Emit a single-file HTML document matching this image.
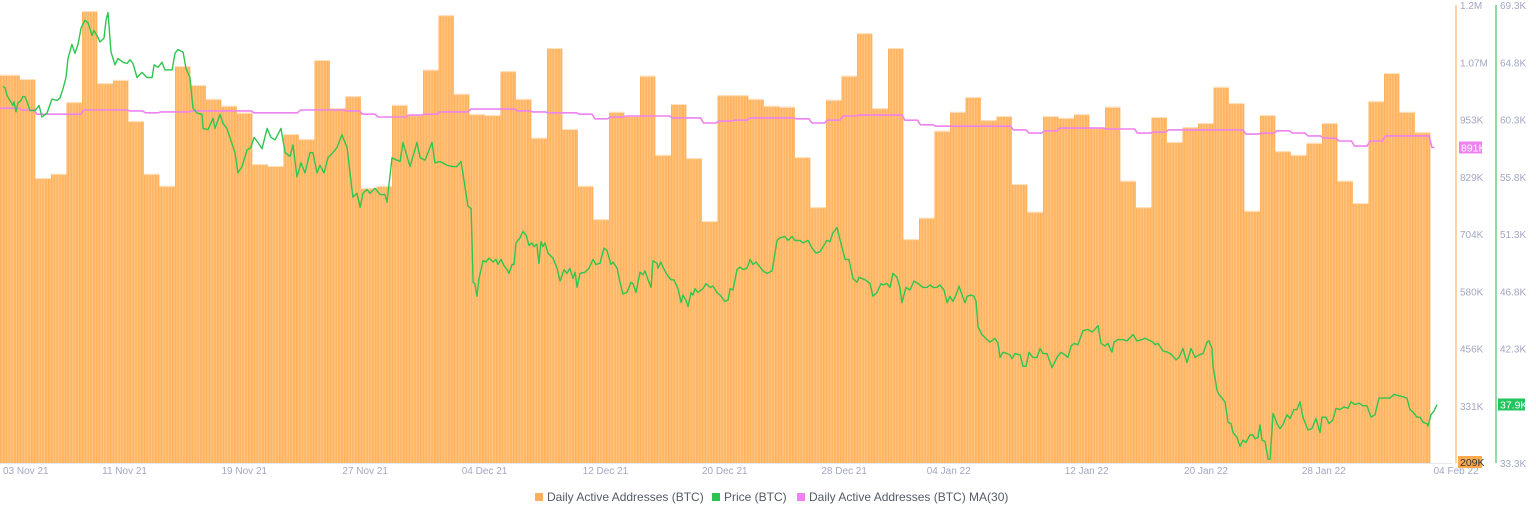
<!DOCTYPE html>
<html><head><meta charset="utf-8"><style>
html,body{margin:0;padding:0;background:#fff;}
body{width:1536px;height:520px;overflow:hidden;font-family:"Liberation Sans",Arial,sans-serif;}
svg text{font-family:"Liberation Sans",Arial,sans-serif;}
</style></head><body>
<svg id="chart" width="1536" height="520" viewBox="0 0 1536 520" xmlns="http://www.w3.org/2000/svg">
<defs>
<pattern id="stripes" patternUnits="userSpaceOnUse" width="1.55" height="10">
<rect x="0" y="0" width="1.55" height="10" fill="#FFC787"/>
<rect x="0" y="0" width="0.65" height="10" fill="#FFA94A"/>
</pattern>
<clipPath id="plotClip"><rect x="0" y="0" width="1452" height="464"/></clipPath>
</defs>
<g id="bars" clip-path="url(#plotClip)"></g>
<line x1="0" y1="463.5" x2="1452" y2="463.5" stroke="#E6E8EE" stroke-width="1"/>
<g id="lines" clip-path="url(#plotClip)"></g>
<line x1="1456" y1="5" x2="1456" y2="463" stroke="#FFD3A3" stroke-width="2"/>
<line x1="1496" y1="5" x2="1496" y2="463" stroke="#8FDCA2" stroke-width="2"/>
<g id="axes"></g>
<g font-size="12" fill="#555a66">
<g><rect x="535" y="493" width="8" height="8" fill="#FFAE5A"/><text x="547" y="501" fill="#555a66">Daily Active Addresses (BTC)</text></g>
<g><rect x="712" y="493" width="8" height="8" fill="#2CC450"/><text x="724" y="501" fill="#555a66">Price (BTC)</text></g>
<g><rect x="797" y="493" width="8" height="8" fill="#EE82EE"/><text x="809" y="501" fill="#555a66">Daily Active Addresses (BTC) MA(30)</text></g>
</g>
</svg>
<script>
const barValues = [1048,1048,1039,825,834,989,1186,1030,1037,948,834,808,1067,1026,996,981,966,855,851,920,909,1080,976,1002,803,808,983,961,1059,1177,1007,963,961,1056,996,912,1106,931,808,736,968,959,1046,875,985,868,732,1004,1004,996,981,979,870,762,994,1046,1138,976,1106,693,739,927,968,1000,950,959,812,752,959,955,963,933,979,819,762,957,903,935,944,1022,987,754,961,883,875,901,944,819,771,991,1052,968,924];
const maValues = [976,976,972,963,963,963,972,972,972,970,966,968,968,970,970,970,970,966,966,966,972,972,972,970,963,957,957,961,963,968,968,974,974,974,970,968,966,966,963,953,957,959,959,959,955,955,944,948,950,955,955,955,953,944,950,959,961,961,961,950,940,937,937,937,937,937,929,922,927,933,933,933,931,931,922,924,929,929,929,929,929,920,922,927,922,916,911,905,894,905,916,916,916];
const maLast = 891;
const priceT = [0.90,1.03,1.16,1.35,1.55,1.61,1.74,1.87,2.06,2.19,2.32,2.45,2.65,2.97,3.23,3.42,3.74,4.06,4.39,4.58,4.77,4.97,5.10,5.35,5.55,5.74,5.94,6.19,6.39,6.65,6.77,6.97,7.16,7.42,7.55,7.68,7.87,8.13,8.32,8.65,8.90,9.10,9.29,9.55,9.87,10.19,10.52,10.65,10.90,11.16,11.35,11.81,12.0,12.19,12.52,12.71,12.97,13.16,13.42,13.74,13.81,14.13,14.45,14.58,14.90,15.10,15.35,15.68,15.87,16.06,16.32,16.65,16.90,17.10,17.35,17.61,17.94,18.19,18.45,18.84,19.10,19.42,19.61,19.87,20.13,20.39,20.71,20.90,21.16,21.35,21.61,21.87,22.19,22.45,22.77,23.10,23.29,23.48,23.74,23.94,24.13,24.39,24.58,24.90,25.23,25.55,25.68,26.0,26.32,26.52,26.71,27.16,27.61,27.81,28.13,28.58,28.77,29.10,29.55,29.87,30.19,30.45,30.71,30.90,31.10,31.23,31.35,31.48,31.61,31.87,32.06,32.26,32.52,32.71,32.84,33.03,33.23,33.42,33.55,33.74,33.87,34.0,34.26,34.45,34.65,34.84,35.03,35.16,35.35,35.48,35.61,35.74,35.87,36.06,36.39,36.65,36.84,37.10,37.29,37.48,37.68,37.81,37.94,38.13,38.45,38.71,38.97,39.16,39.42,39.68,39.87,40.13,40.26,40.52,40.71,40.90,41.16,41.42,41.55,41.74,42.0,42.19,42.32,42.52,42.71,42.84,43.10,43.16,43.35,43.48,43.74,44.0,44.19,44.45,44.65,44.77,44.97,45.10,45.29,45.42,45.55,45.74,46.06,46.26,46.52,46.71,46.97,47.16,47.48,47.68,47.81,48.0,48.26,48.45,48.65,48.90,49.10,49.29,49.48,49.74,49.94,50.19,50.52,50.84,51.03,51.35,51.55,51.81,52.0,52.32,52.52,52.84,53.10,53.35,53.61,53.81,54.06,54.26,54.45,54.71,54.90,55.23,55.48,55.74,56.0,56.13,56.52,56.84,57.03,57.29,57.55,57.68,57.94,58.13,58.32,58.58,58.77,58.90,59.16,59.42,59.68,59.94,60.26,60.52,60.71,60.90,61.16,61.35,61.61,61.81,62.0,62.19,62.39,62.58,62.84,62.97,63.10,63.35,63.55,63.68,63.81,64.06,64.39,64.58,64.90,65.10,65.23,65.42,65.68,65.87,66.0,66.19,66.52,66.71,66.90,67.10,67.35,67.61,67.81,68.0,68.26,68.58,68.90,69.16,69.42,69.61,69.81,70.0,70.26,70.58,70.90,71.16,71.35,71.55,71.74,72.0,72.19,72.45,72.58,72.84,73.16,73.42,73.81,74.06,74.39,74.58,74.77,75.10,75.23,75.42,75.74,76.06,76.32,76.58,76.77,77.03,77.16,77.29,77.55,77.81,78.06,78.32,78.58,78.71,78.90,78.97,79.23,79.35,79.55,79.74,79.94,80.13,80.26,80.52,80.71,80.90,81.10,81.35,81.55,81.68,81.87,82.0,82.13,82.32,82.52,82.65,82.84,83.10,83.29,83.48,83.74,83.94,84.19,84.39,84.58,84.77,85.10,85.35,85.61,85.87,86.0,86.26,86.45,86.71,86.90,87.16,87.42,87.68,87.87,88.13,88.39,88.65,88.90,89.16,89.42,89.68,90.06,90.39,90.65,90.90,91.23,91.48,91.68,91.87,92.13,92.32,92.52,92.77,92.84,93.03,93.23,93.42];
const priceV = [62.9,62.8,62.2,61.8,61.4,61.7,60.9,61.6,61.8,62.1,62.1,61.7,61.0,61.0,61.4,60.5,60.8,61.9,61.8,62.0,62.7,63.6,65.1,66.2,65.5,66.2,67.5,68.1,67.9,66.9,67.3,66.9,66.4,66.7,68.1,68.7,65.6,64.6,65.1,64.8,64.7,65.0,64.7,63.6,64.0,63.6,63.6,64.6,64.4,64.8,64.2,64.2,65.5,65.8,65.6,64.3,63.6,61.2,60.8,60.7,59.6,59.5,60.4,59.6,60.7,60.0,59.6,58.4,57.7,56.1,56.6,57.9,58.1,58.9,58.5,58.0,59.6,58.9,58.7,59.6,57.7,57.4,58.3,55.8,56.9,56.1,57.7,57.7,56.1,56.7,56.1,57.3,57.7,58.1,59.1,58.1,56.1,54.2,54.5,53.4,54.5,54.8,54.5,54.9,54.4,54.4,53.8,57.3,57.1,57.0,58.5,56.6,58.5,57.3,57.1,58.5,56.9,57.0,56.7,56.6,56.6,57.0,55.0,53.5,53.3,47.5,47.4,46.4,47.8,49.2,49.1,49.4,49.1,49.3,48.9,49.3,48.8,48.5,48.2,48.9,48.9,50.6,51.0,51.5,51.2,50.4,50.6,50.3,50.5,49.0,50.7,50.3,50.6,49.8,49.4,48.6,47.6,48.5,48.2,48.6,47.8,48.3,47.1,48.2,48.3,48.6,49.3,48.9,49.0,50.2,50.0,48.9,49.1,48.6,47.5,46.6,46.7,47.5,47.4,46.7,48.3,48.1,48.4,47.7,47.1,49.2,49.0,48.6,49.1,48.7,48.1,47.7,47.7,47.0,45.9,46.5,46.1,45.6,46.7,46.5,47.0,46.7,47.0,47.4,47.1,47.2,46.7,46.5,46.0,46.1,47.0,46.9,48.5,48.7,48.5,48.6,49.3,48.9,49.1,48.7,48.4,48.2,48.4,50.8,51.0,51.1,50.8,51.1,50.8,50.8,50.6,50.8,50.2,49.8,49.9,50.3,50.8,50.7,51.4,51.8,50.9,49.3,49.3,47.8,47.5,47.9,47.7,47.4,46.4,46.7,47.4,47.3,47.4,47.1,48.2,47.9,47.1,45.9,47.1,46.9,47.6,47.4,47.1,47.1,47.3,47.1,47.1,47.3,46.9,45.9,46.4,46.0,46.5,47.2,46.3,45.9,46.4,46.5,46.4,46.0,44.0,43.4,43.0,42.8,43.1,42.7,41.6,42.0,41.9,41.8,41.5,41.9,41.8,40.9,40.9,42.0,41.6,41.6,42.3,41.9,41.9,40.8,41.6,42.0,41.8,41.6,42.5,42.7,42.6,43.7,43.8,43.6,43.8,44.1,42.7,42.5,42.7,42.0,42.8,43.0,43.0,42.9,43.4,42.9,43.0,43.1,43.0,42.8,42.6,42.7,42.1,42.0,41.8,41.4,41.6,42.3,41.7,41.2,42.3,41.6,41.8,41.9,42.8,42.9,42.3,40.9,39.0,38.7,38.4,38.1,36.5,36.4,35.7,35.3,34.6,35.1,34.9,35.5,35.5,35.2,35.3,36.3,35.1,35.0,33.6,33.6,37.2,36.4,36.0,36.3,37.1,36.8,37.5,37.5,38.1,36.9,35.9,36.0,36.8,35.7,36.9,36.9,36.4,36.7,37.6,37.5,37.7,37.6,38.1,37.9,38.0,37.8,37.8,36.9,37.1,38.4,38.4,38.4,38.7,38.6,38.5,38.4,37.5,37.3,36.9,36.9,36.5,36.4,36.2,37.1,37.4,37.9];
const leftTicks = ["209K","331K","456K","580K","704K","829K","953K","1.07M","1.2M"];
const rightTicks = ["33.3K","37.8K","42.3K","46.8K","51.3K","55.8K","60.3K","64.8K","69.3K"];
const dateLabels = ["03 Nov 21","11 Nov 21","19 Nov 21","27 Nov 21","04 Dec 21","12 Dec 21","20 Dec 21","28 Dec 21","04 Jan 22","12 Jan 22","20 Jan 22","28 Jan 22","04 Feb 22"];
const dateT = [0.9,7.3,15.0,22.8,30.5,38.3,46.0,53.7,60.5,69.4,77.1,84.7,93.2];
const lastPrice = "37.9K", lastMA = "891K", minLabel = "209K";

const NS = "http://www.w3.org/2000/svg";
const X0 = -11, DAY = 15.5, YB = 463, YT = 5;
const L_MIN = 209, L_MAX = 1199, P_MIN = 33.3, P_MAX = 69.3;
function xScale(t){ return X0 + t*DAY; }
function yLeft(v){ return YB - (v-L_MIN)/(L_MAX-L_MIN)*(YB-YT); }
function yRight(v){ return YB - (v-P_MIN)/(P_MAX-P_MIN)*(YB-YT); }
function mk(tag, attrs, parent){ const e=document.createElementNS(NS,tag); for(const k in attrs) e.setAttribute(k,attrs[k]); parent.appendChild(e); return e; }

const gb = document.getElementById('bars');
barValues.forEach((v,i)=>{
  const x1 = xScale(i), x2 = xScale(i+1), y = yLeft(v);
  const r = mk('rect',{x:x1,y:y,width:x2-x1,height:YB-y,fill:'url(#stripes)'},gb);
  
  
  const t = mk('line',{x1:x1,x2:x2,y1:y+0.5,y2:y+0.5,stroke:'#FFE2C0','stroke-width':1},gb);
  
  
});

const gl = document.getElementById('lines');
let d = '';
maValues.forEach((v,i)=>{
  const y = yLeft(v);
  d += (i===0?'M':'L') + (xScale(i)+1.5).toFixed(1)+','+y.toFixed(1)+' L'+(xScale(i+1)-1.5).toFixed(1)+','+y.toFixed(1)+' ';
});
d += 'L'+(xScale(barValues.length)+1.5).toFixed(1)+','+yLeft(maLast).toFixed(1)+' L'+(xScale(barValues.length)+4).toFixed(1)+','+yLeft(maLast).toFixed(1);
const ma = mk('path',{d:d,fill:'none',stroke:'#EE82EE','stroke-width':1.6},gl);



let pd = '';
priceT.forEach((t,i)=>{ pd += (i===0?'M':'L') + xScale(t).toFixed(1)+','+yRight(priceV[i]).toFixed(1)+' '; });
const pl = mk('path',{d:pd,fill:'none',stroke:'#2DC64E','stroke-width':1.4,'stroke-linejoin':'round'},gl);



const ga = document.getElementById('axes');
leftTicks.forEach((s,i)=>{
  const y = YB - i*(YB-YT)/(leftTicks.length-1);
  if(i===0) return;
  const t = mk('text',{x:1460,y:y+4,'font-size':10,fill:'#A3A7C2'},ga);
  t.textContent = s;
  
  
});
rightTicks.forEach((s,i)=>{
  const y = YB - i*(YB-YT)/(rightTicks.length-1);
  if(i===1) return;
  const t = mk('text',{x:1500,y:y+4,'font-size':10,fill:'#A3A7C2'},ga);
  t.textContent = s;
  
  
});
dateLabels.forEach((s,i)=>{
  const t = mk('text',{x:Math.max(3,xScale(dateT[i])),y:474,'font-size':10,fill:'#A3A7C2'},ga);
  t.textContent = s;
  
  
});
function badge(x,y,w,fill,txtFill,txt,name){
  const g = mk('g',{},ga);
  
  
  mk('rect',{x:x,y:y-6,width:w,height:12,fill:fill},g);
  const t = mk('text',{x:x+2,y:y+4,'font-size':10.5,fill:txtFill},g);
  t.textContent = txt;
}
badge(1459, yLeft(maLast), 23, '#EE82EE', '#ffffff', lastMA, 'ma30-last-value-badge');
badge(1498, yRight(priceV[priceV.length-1]), 27, '#22C55E', '#ffffff', lastPrice, 'price-last-value-badge');
badge(1458, 462, 24, '#FFA94D', '#333333', minLabel, 'left-axis-min-badge');
</script>
</body></html>
